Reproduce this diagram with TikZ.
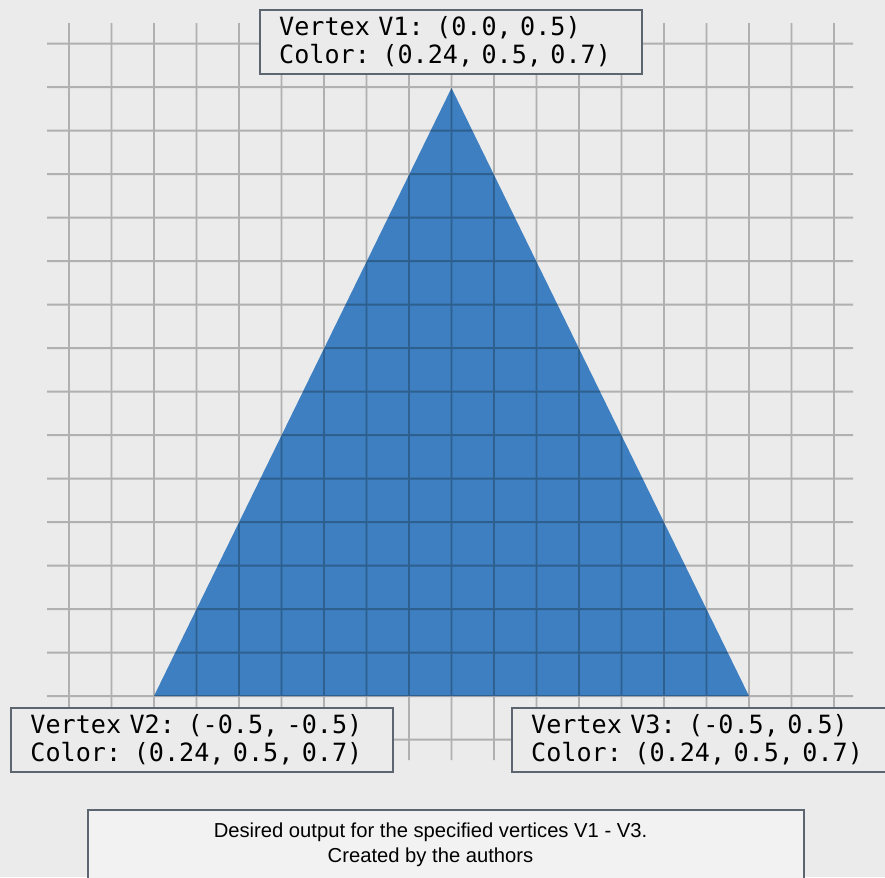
\documentclass[tikz,border=0pt]{standalone}
\usepackage{fontspec}
\setmainfont{Liberation Sans}
\newfontfamily\vtxfont{DejaVu Sans Mono}
\definecolor{bgcolor}{RGB}{235, 235, 235}
\definecolor{tricolor}{RGB}{61, 127, 192}
\definecolor{boxcolor}{RGB}{92, 101, 112}
\definecolor{capcolor}{RGB}{242, 242, 242}

\begin{document}
\begin{tikzpicture}[
  x=0.02cm, y=-0.02cm,
  % --- Styles ---
  gridline/.style={black, line width=1.1pt},
  vbox/.style={
    rectangle, draw=boxcolor, fill=bgcolor, line width=1.1pt,
    anchor=north west, minimum width=7.64cm, minimum height=1.286cm,
    text width=6.86cm, inner xsep=0.39cm, align=left,
    font={\vtxfont\fontsize{14.3}{15.9}\selectfont\spaceskip=0.602em\relax}},
  capbox/.style={
    rectangle, draw=boxcolor, fill=capcolor, line width=1.1pt,
    anchor=north west, minimum width=14.33cm, minimum height=2cm},
  captext/.style={
    align=center, inner sep=0pt,
    font={\fontsize{11.5}{14.2}\selectfont}},
]
% === CANVAS ===
\fill[bgcolor] (0,0) rectangle (885,877);
\useasboundingbox (0,0) rectangle (885,877);
\clip (0,0) rectangle (885,877);

% === TRIANGLE ===
\coordinate (V1) at (451.5,88);
\coordinate (V2) at (154,696);
\coordinate (V3) at (749,696);
\fill[tricolor] (V1) -- (V2) -- (V3) -- cycle;

% === GRID ===
\begin{scope}[transparency group, opacity=0.25]
\foreach \i in {0,...,18}
  \draw[gridline] ({69+42.5*\i},23) -- ({69+42.5*\i},760);
\foreach \j in {0,...,16}
  \draw[gridline] (47,{43.7+43.49*\j}) -- (853,{43.7+43.49*\j});
\end{scope}

% === VERTEX LABELS ===
\node[vbox] (lblV1) at (258.7,9)
  {Vertex V1: (0.0, 0.5)\\Color: (0.24, 0.5, 0.7)};
\node[vbox] (lblV2) at (10,706.7)
  {Vertex V2: (-0.5, -0.5)\\Color: (0.24, 0.5, 0.7)};
\node[vbox] (lblV3) at (510.7,706.7)
  {Vertex V3: (-0.5, 0.5)\\Color: (0.24, 0.5, 0.7)};

% === CAPTION ===
\node[capbox] (cap) at (86.7,809) {};
\node[captext] (captxt) at (430.5,845)
  {Desired output for the specified vertices V1 - V3.\\Created by the authors};
\end{tikzpicture}
\end{document}
